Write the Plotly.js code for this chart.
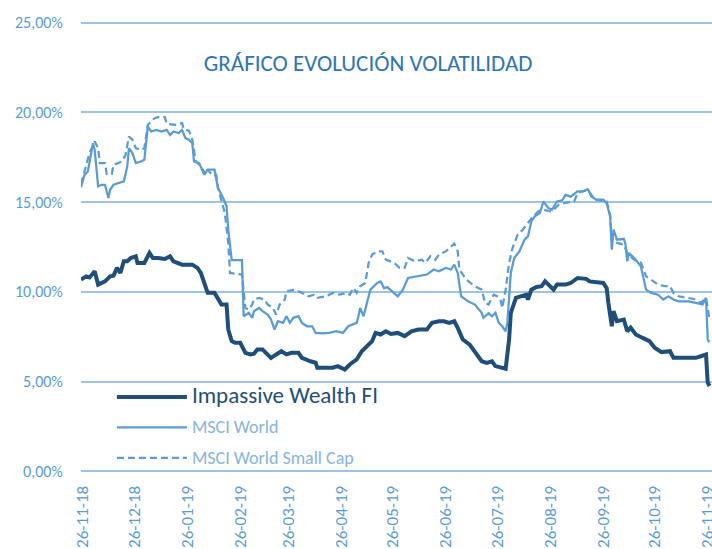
<!DOCTYPE html>
<html>
<head>
<meta charset="utf-8">
<script src="https://cdn.plot.ly/plotly-3.0.1.min.js"></script>
<style>html,body{margin:0;padding:0;background:#fff;}#chart{width:712px;height:549px;}</style>
</head>
<body>
<div id="chart"></div>
<script>
// Day offsets are counted from 26-11-18; values are volatility in percent.
const startDate = '2018-11-26';

const impDays = [-1,2,4,7,9,13,16,18,20,22,24,26,28,31,32,36,39,41,44,48,51,53,58,64,67,69,71,73,77,79,81,84,85,87,89,92,95,98,100,102,105,107,110,113,116,119,122,126,128,133,136,137,142,146,149,153,156,160,163,166,169,171,174,177,180,184,188,192,196,201,204,208,211,214,217,219,222,226,229,233,236,239,241,244,247,249,250,253,256,259,260,262,265,268,270,272,275,277,282,285,289,294,296,304,306,307,309,310,312,316,318,320,323,327,331,334,338,343,345,352,358,361,364,365,366];
const impVol = [10.68,10.86,10.8,11.14,10.4,10.58,10.86,10.9,11.33,11.05,11.7,11.7,11.88,11.98,11.61,11.61,12.16,11.88,11.88,11.83,11.98,11.7,11.51,11.51,11.33,11.05,10.49,9.94,9.94,9.57,9.29,9.29,7.9,7.25,7.16,7.16,6.6,6.51,6.55,6.79,6.79,6.6,6.32,6.51,6.69,6.51,6.6,6.6,6.32,6.13,6.05,5.77,5.77,5.77,5.86,5.67,5.95,6.23,6.69,6.97,7.25,7.71,7.62,7.8,7.65,7.71,7.53,7.8,7.9,7.9,8.27,8.36,8.36,8.27,8.36,7.99,7.34,7.06,6.69,6.13,6.04,6.13,5.86,5.77,5.71,7.34,8.83,9.66,9.75,9.84,9.57,10.12,10.27,10.31,10.58,10.4,10.12,10.4,10.4,10.49,10.77,10.72,10.58,10.49,10.2,9.38,8.08,8.92,8.36,8.45,7.8,8.0,7.62,7.43,7.25,6.88,6.64,6.69,6.32,6.32,6.32,6.41,6.51,4.93,4.75];

const worldDays = [-1,1,3,6,7,9,11,13,15,16,18,21,24,26,27,29,31,34,36,38,40,43,46,49,51,53,56,58,60,62,64,65,68,71,73,77,79,82,84,85,87,93,94,97,99,100,103,105,108,110,112,114,117,119,121,123,126,128,131,134,136,140,144,148,152,155,158,160,161,162,164,166,168,172,174,176,178,184,187,190,196,201,205,208,212,215,217,219,221,225,229,233,234,237,239,241,243,245,247,248,250,252,255,258,260,262,264,267,269,272,274,277,280,282,285,289,292,295,297,300,304,306,308,309,310,312,316,317,318,319,323,326,327,329,332,336,339,342,345,348,354,359,362,364,365,366];
const worldVol = [15.83,16.5,16.7,18.28,17.9,15.87,15.96,15.96,15.22,15.68,15.96,16.06,16.15,16.98,18.0,17.73,17.17,17.26,17.35,19.2,18.93,19.02,18.93,19.02,18.74,18.93,18.84,19.02,18.56,18.47,18.28,17.26,17.17,16.52,16.8,16.8,15.78,15.22,14.76,13.46,11.76,11.76,8.64,8.83,8.55,8.92,9.1,8.92,8.73,8.45,7.9,8.36,8.27,8.64,8.27,8.55,8.64,8.27,8.08,8.08,7.71,7.68,7.71,7.8,7.71,8.08,8.18,8.27,8.64,9.1,8.64,9.38,10.12,10.49,10.58,10.2,10.25,9.75,10.12,10.77,10.86,10.96,11.24,11.14,11.33,11.24,11.51,11.05,9.75,9.47,9.29,8.83,8.55,8.8,8.64,8.83,8.27,8.08,7.8,8.27,11.05,11.88,12.25,12.9,13.09,13.92,14.2,14.39,15.03,14.66,14.57,15.03,15.1,15.4,15.3,15.59,15.59,15.72,15.31,15.13,15.13,14.94,14.2,12.35,13.46,12.9,12.95,12.63,11.7,12.16,11.79,11.4,10.96,10.12,9.94,9.84,9.57,9.75,9.57,9.47,9.47,9.38,9.3,9.66,7.34,7.2];

const smallDays = [-1,0,4,7,9,10,13,14,17,18,23,25,27,29,31,34,36,38,42,44,48,49,54,58,59,62,64,66,68,72,73,76,78,79,81,83,85,86,93,94,95,97,99,100,103,106,108,111,113,115,118,119,124,128,132,135,137,142,146,150,154,156,158,160,162,165,167,169,172,175,177,182,185,188,190,194,198,200,203,206,208,212,214,217,219,220,224,229,233,235,237,240,242,244,245,247,249,251,254,257,260,263,266,269,272,274,278,281,287,289,295,299,306,308,309,312,316,318,322,326,329,332,336,340,343,345,348,357,361,364,366];
const smallVol = [16.0,16.33,17.73,18.37,18.0,17.17,17.17,16.57,16.57,17.07,17.26,17.63,18.65,18.47,18.0,17.9,18.0,19.3,19.67,19.73,19.73,19.36,19.3,19.4,19.06,18.98,18.47,17.26,17.1,16.52,16.8,16.46,16.5,15.78,15.03,14.39,12.72,11.05,10.96,9.84,9.1,9.0,9.29,9.57,9.66,9.57,9.29,9.1,8.73,9.29,9.57,10.03,10.12,9.94,9.75,9.84,9.66,9.75,9.94,9.84,9.94,9.84,10.22,9.94,10.31,10.49,11.61,12.07,12.25,12.25,11.79,11.61,11.33,11.33,11.88,11.7,11.79,11.61,11.98,11.79,12.07,12.25,12.44,12.68,12.25,11.24,10.68,10.31,10.12,9.38,9.29,9.84,9.75,9.57,9.1,10.12,11.61,12.44,13.18,13.46,13.83,14.2,14.48,14.57,14.5,14.48,14.85,14.94,15.03,15.5,15.68,15.13,15.03,14.3,12.9,12.72,12.63,12.16,11.79,11.61,10.86,10.68,10.4,10.31,10.31,9.94,9.75,9.6,9.38,9.66,8.5];

const tickDates = ['2018-11-26','2018-12-26','2019-01-26','2019-02-26','2019-03-26','2019-04-26','2019-05-26','2019-06-26','2019-07-26','2019-08-26','2019-09-26','2019-10-26','2019-11-26'];
const seriesNames = ['Impassive Wealth FI','MSCI World','MSCI World Small Cap'];

const FONT = 'Carlito, Lato, "Open Sans", sans-serif';
const base = Date.parse(startDate + 'T00:00:00Z');
function toDates(days){ return days.map(d => new Date(base + d*86400000).toISOString().slice(0,10)); }
function toFrac(v){ return v.map(x => x/100); }

const traces = [
  {x: toDates(impDays), y: toFrac(impVol), type:'scatter', mode:'lines',
   name: '<span style="font-size:23px;color:#1F4E79">' + seriesNames[0] + '</span>',
   legendgroup:'a', line:{color:'#1F4E79', width:4}},
  {x: toDates(worldDays), y: toFrac(worldVol), type:'scatter', mode:'lines',
   name: '<span style="font-size:18px;color:#86B4E0">' + seriesNames[1] + '</span>',
   legendgroup:'b', line:{color:'#5B9BD5', width:2.25}},
  {x: toDates(smallDays), y: toFrac(smallVol), type:'scatter', mode:'lines',
   name: '<span style="font-size:18px;color:#86B4E0">' + seriesNames[2] + '</span>',
   legendgroup:'c', line:{color:'#5B9BD5', width:2.25, dash:'7px,4px'}}
];

const layout = {
  width:712, height:549,
  margin:{l:81, r:0, t:20, b:75, pad:0},
  paper_bgcolor:'#ffffff', plot_bgcolor:'#ffffff',
  separators:',.',
  font:{family:FONT, color:'#5B9BD5'},
  title:{text:'GRÁFICO EVOLUCIÓN VOLATILIDAD', font:{family:FONT, size:23, color:'#2E75B6'},
         x:0.517, xref:'container', xanchor:'center', y:0.885, yref:'container', yanchor:'middle'},
  xaxis:{type:'date', range:['2018-11-25','2019-11-28 12:00'], tickmode:'array', tickvals:tickDates,
         tickformat:'%d-%m-%y', tickangle:-90, showgrid:false, zeroline:false, showline:false,
         ticks:'outside', ticklen:4, tickcolor:'rgba(0,0,0,0)', ticklabeloverflow:'allow',
         tickfont:{family:FONT, size:17, color:'#5B9BD5'}},
  yaxis:{range:[-0.0015,0.2514], tick0:0, dtick:0.05, tickformat:'.2%',
         showgrid:true, gridcolor:'#9DC3E6', gridwidth:2,
         zeroline:true, zerolinecolor:'#9DC3E6', zerolinewidth:2, showline:false,
         ticks:'outside', ticklen:14, tickcolor:'rgba(0,0,0,0)',
         tickfont:{family:FONT, size:16, color:'#5B9BD5'}},
  showlegend:true,
  legend:{x:0.049, y:0.2055, xanchor:'left', yanchor:'top', bgcolor:'rgba(0,0,0,0)', borderwidth:0,
          font:{family:FONT, size:15, color:'#86B4E0'}, itemwidth:70, tracegroupgap:8, traceorder:'grouped'}
};

Plotly.newPlot('chart', traces, layout, {displayModeBar:false, staticPlot:true});
</script>
</body>
</html>
